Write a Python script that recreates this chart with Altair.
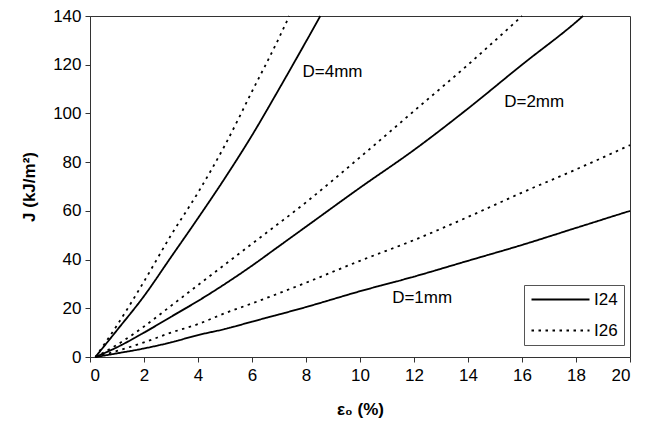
import altair as alt
import pandas as pd

# I24 (solid) and I26 (dotted) curves for D = 1, 2, 4 mm
x_i24_d1 = [0.2, 1, 2, 3, 4, 5, 6, 8, 10, 12, 14, 16, 18, 20]
j_i24_d1 = [0, 1.5, 3.5, 6, 9, 11.5, 14.5, 20.5, 27, 33, 39.5, 46, 53, 60]

x_i26_d1 = [0.2, 1, 2, 3, 4, 5, 6, 8, 10, 12, 14, 16, 18, 20]
j_i26_d1 = [0, 2.5, 6, 10, 13.5, 18, 22, 30.5, 39.5, 48, 57.5, 67.5, 77, 87]

x_i24_d2 = [0.2, 1, 2, 3, 4, 5, 6, 7, 8, 10, 12, 14, 16, 18, 18.26]
j_i24_d2 = [0, 4, 10, 16.5, 23, 30, 37.5, 45.5, 53.5, 69.5, 85, 102, 120, 137.5, 140]

x_i26_d2 = [0.2, 1, 2, 3, 4, 5, 6, 8, 10, 12, 14, 16]
j_i26_d2 = [0, 5, 12.5, 21, 29.5, 38, 46.5, 63.5, 82, 101, 120, 140]

x_i24_d4 = [0.2, 1, 2, 3, 4, 5, 6, 7, 8, 8.53]
j_i24_d4 = [0, 11, 25, 41, 57, 73.5, 91, 110, 129.5, 140]

x_i26_d4 = [0.2, 1, 2, 3, 4, 5, 6, 7, 7.38]
j_i26_d4 = [0, 13, 31, 50, 67.5, 87, 109, 131, 140]

ann_text = ["D=4mm", "D=2mm", "D=1mm"]
ann_x = [7.87, 15.34, 11.19]
ann_y = [117.2, 104.8, 24.1]

series = [
    ("I24", "1mm", x_i24_d1, j_i24_d1),
    ("I26", "1mm", x_i26_d1, j_i26_d1),
    ("I24", "2mm", x_i24_d2, j_i24_d2),
    ("I26", "2mm", x_i26_d2, j_i26_d2),
    ("I24", "4mm", x_i24_d4, j_i24_d4),
    ("I26", "4mm", x_i26_d4, j_i26_d4),
]
rows = []
for grade, d, xs, js in series:
    for i, (xv, jv) in enumerate(zip(xs, js)):
        rows.append({"grade": grade, "D": d, "series": grade + d, "order": i, "eps": xv, "J": jv})
df = pd.DataFrame(rows)
ann = pd.DataFrame({"text": ann_text, "eps": ann_x, "J": ann_y})

FONT = "Liberation Sans"

xscale = alt.Scale(domain=[0, 20], nice=False)
yscale = alt.Scale(domain=[0, 140], nice=False)

lines = alt.Chart(df).mark_line(color="black", strokeWidth=1.8, interpolate="monotone").encode(
    x=alt.X("eps:Q", scale=xscale,
            axis=alt.Axis(title="ε₀ (%)", values=list(range(0, 21, 2)), grid=False,
                          tickSize=5, labelPadding=5, titlePadding=18)),
    y=alt.Y("J:Q", scale=yscale,
            axis=alt.Axis(title="J (kJ/m²)", values=list(range(0, 141, 20)), grid=False,
                          tickSize=5, labelPadding=4, titlePadding=14)),
    detail="series:N",
    order="order:Q",
    strokeDash=alt.StrokeDash(
        "grade:N",
        scale=alt.Scale(domain=["I24", "I26"], range=[[1, 0], [2.5, 4.5]]),
        legend=alt.Legend(
            title=None, orient="none", legendX=434, legendY=269,
            strokeColor="#555", padding=6,
            symbolType="M-5.8,0H5.8", symbolSize=100, symbolOffset=22,
            symbolStrokeWidth=1.8, symbolStrokeColor="black",
            labelFontSize=17, labelFont=FONT, labelColor="black",
            rowPadding=13, labelOffset=25,
        ),
    ),
)

texts = alt.Chart(ann).mark_text(align="left", baseline="middle", fontSize=17,
                                 font=FONT, color="black").encode(
    x=alt.X("eps:Q", scale=xscale), y=alt.Y("J:Q", scale=yscale), text="text:N"
)

chart = (lines + texts).properties(
    width=540, height=341,
    autosize=alt.AutoSizeParams(type="none"),
    padding={"left": 82, "top": 8, "right": 6, "bottom": 62},
).configure_view(stroke="#333", strokeWidth=1).configure_axis(
    labelFont=FONT, titleFont=FONT, labelFontSize=17, titleFontSize=17,
    titleFontWeight="bold", labelColor="black", titleColor="black",
    domainColor="#333", tickColor="#333",
)

chart.save("out.html", embed_options={"renderer": "svg", "actions": False})
